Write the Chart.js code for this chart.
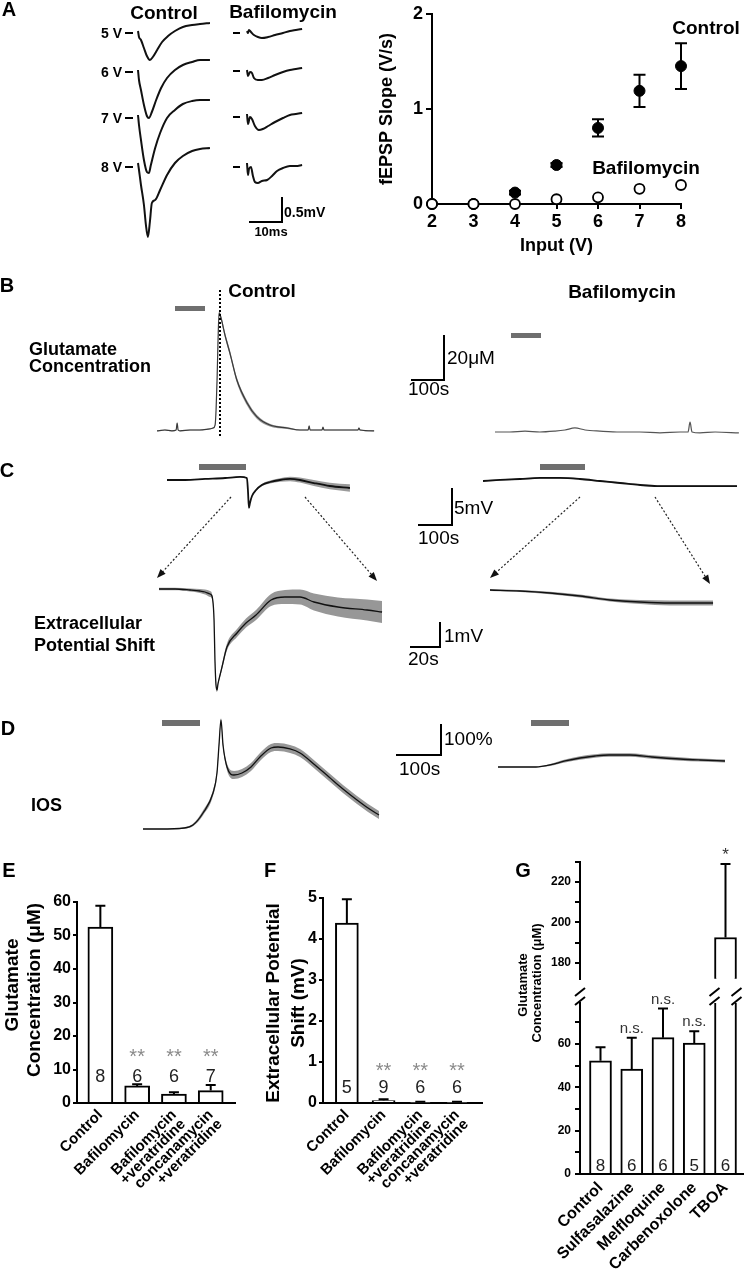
<!DOCTYPE html>
<html><head><meta charset="utf-8">
<script src="https://cdn.jsdelivr.net/npm/chart.js@4.4.1/dist/chart.umd.min.js"></script>
<style>
html,body{margin:0;padding:0;background:#fff;}
#fig{position:relative;width:746px;height:1281px;overflow:hidden;background:#fff;font-family:"Liberation Sans",Arial,sans-serif;color:#000;}
.t{position:absolute;white-space:nowrap;line-height:1;}
canvas{position:absolute;}
#deco{position:absolute;left:0;top:0;z-index:5;pointer-events:none;}
</style></head>
<body><div id="fig"><svg id="deco" width="746" height="1281" xmlns="http://www.w3.org/2000/svg"></svg></div>
<script>
// ---------------- DATA ----------------
// Panel A: fEPSP traces (time in ms, potential in mV)
const aCtl5T = [0,0.3,0.9,1.8,2.7,3.6,4.5,5.8,7.3,9.1,11.2,13.6,16.4,18.8,21.8];
const aCtl5V = [0,-0.12,-0.18,-0.34,-0.5,-0.58,-0.52,-0.38,-0.22,-0.1,0,0.08,0.12,0.14,0.16];
const aCtl6T = [0,0.3,0.9,1.8,2.7,3.3,4.2,5.5,7.0,8.8,11.2,13.6,16.4,18.8,21.8];
const aCtl6V = [0,-0.2,-0.4,-0.7,-0.92,-0.96,-0.84,-0.6,-0.36,-0.16,0,0.1,0.16,0.2,0.2];
const aCtl7T = [0,0.3,0.9,1.8,2.7,3.3,3.9,5.2,6.7,8.8,11.2,13.6,16.4,18.8,21.8];
const aCtl7V = [0,-0.2,-0.5,-0.9,-1.14,-1.16,-1.0,-0.66,-0.36,-0.06,0.1,0.22,0.28,0.3,0.3];
const aCtl8T = [0,0.3,0.9,1.8,2.4,3.0,3.6,4.2,5.2,6.7,8.8,11.2,13.6,16.4,18.8,21.8];
const aCtl8V = [0,-0.14,-0.44,-0.84,-1.24,-1.48,-1.18,-0.8,-0.74,-0.54,-0.24,0,0.14,0.24,0.28,0.3];
const aBaf5T = [0,0.3,0.6,1.2,2.1,3.3,4.5,6.4,8.5,10.9,13.0,14.8,16.7];
const aBaf5V = [0,-0.04,0.02,-0.02,-0.08,-0.12,-0.14,-0.12,-0.08,-0.04,0,0.02,0.04];
const aBaf6T = [0,0.3,0.9,1.5,2.1,3.3,4.5,6.4,8.5,10.9,13.0,14.8,16.7];
const aBaf6V = [0.02,-0.1,-0.02,-0.04,-0.14,-0.18,-0.18,-0.14,-0.08,-0.02,0.02,0.04,0.06];
const aBaf7T = [0,0.3,0.9,1.5,2.4,3.6,4.8,6.4,8.5,10.9,13.0,14.8,16.7];
const aBaf7V = [0.04,-0.16,-0.02,-0.06,-0.2,-0.28,-0.26,-0.2,-0.12,-0.04,0.02,0.04,0.06];
const aBaf8T = [0,0.3,0.6,1.2,1.8,2.4,3.3,4.5,6.1,7.6,9.1,10.9,13.0,14.8,16.7];
const aBaf8V = [0.04,-0.2,-0.08,-0.04,-0.22,-0.34,-0.36,-0.32,-0.3,-0.22,-0.12,-0.06,-0.02,-0.02,0];

// Panel A: input-output curve
const inputV = [2,3,4,5,6,7,8];
const slopeCtl = [0,0,0.12,0.41,0.80,1.19,1.45];
const slopeCtlErr = [0,0,0.02,0.02,0.09,0.17,0.24];
const slopeBaf = [0,0,0,0.05,0.07,0.16,0.20];
const slopeBafErr = [0,0,0,0,0,0,0];

// Panel B: glutamate concentration (time s, uM)
const bCtlT = [0,24,45,58,61,64,70,100,130,155,170,176,179,182,185,188,194,206,221,242,273,303,342,394,433,458,461,464,488,500,503,506,555,609,612,615,658];
const bCtlV = [-0.4,0,-0.4,0,3.1,0,-0.4,0,0,0.4,0.9,2.2,8.9,22.2,40,52,49.8,42.2,34.2,22.2,12,5.8,2.2,0.9,0,0,1.8,0,0,0,1.3,0,0,0,0.9,0,-0.4];
const bCtlSem = [0.2,0.2,0.2,0.2,0.2,0.2,0.2,0.2,0.2,0.2,0.2,0.3,0.6,0.9,1.0,1.0,1.1,1.2,1.2,1.2,1.1,0.9,0.6,0.4,0.2,0.2,0.2,0.2,0.2,0.2,0.2,0.2,0.2,0.2,0.2,0.2,0.2];
const bBafT = [0,45,91,136,182,212,242,273,318,379,439,500,561,585,591,597,621,667,739];
const bBafV = [0,0,0.4,0,0.4,0.9,1.8,0.9,0.4,0,0,-0.4,0,0,4.4,0,-0.4,0,-0.4];

// Panel C: extracellular potential (time s, mV)
const cTopCtlT = [0,53,112,171,215,235,238,241,244,250,262,279,303,332,362,391,432,479,538];
const cTopCtlV = [0,0,0.14,0.27,0.41,0.27,-1.35,-3.78,-3.11,-2.16,-1.35,-0.68,-0.27,0,0.14,0,-0.41,-0.81,-1.08];
const cTopCtlSem = [0.05,0.05,0.05,0.05,0.05,0.05,0.08,0.1,0.1,0.1,0.12,0.15,0.2,0.25,0.3,0.35,0.4,0.45,0.5];
const cTopBafT = [0,50,109,168,226,285,344,403,462,512,579,638,747];
const cTopBafV = [0,0.14,0.27,0.41,0.41,0.27,0,-0.27,-0.54,-0.68,-0.68,-0.68,-0.68];
const cTopBafSem = [0.1,0.1,0.1,0.1,0.1,0.1,0.1,0.1,0.1,0.1,0.1,0.1,0.1];
const cBotCtlT = [0,10.7,20.7,27.3,30.7,34,35.3,36.7,37.3,38,38.7,39.3,40.7,42,45.3,52,58,64.7,74.7,84,94,103.3,119.3,138.7,148.7];
const cBotCtlV = [0,0,-0.04,-0.08,-0.12,-0.2,-0.28,-1.24,-2.84,-3.84,-4.04,-3.8,-3.44,-3.12,-2.32,-1.76,-1.36,-1.04,-0.44,-0.32,-0.32,-0.52,-0.72,-0.84,-0.92];
const cBotCtlSem = [0.05,0.05,0.06,0.08,0.1,0.12,0.1,0.08,0.08,0.08,0.08,0.08,0.08,0.1,0.14,0.16,0.18,0.2,0.24,0.28,0.3,0.34,0.38,0.42,0.44];
const cBotBafT = [0,20,40,60,80,100,120,148.7];
const cBotBafV = [0,-0.04,-0.12,-0.24,-0.4,-0.48,-0.52,-0.52];
const cBotBafSem = [0.04,0.04,0.05,0.06,0.06,0.08,0.1,0.1];

// Panel D: intrinsic optical signal (time s, %)
const dCtlT = [0,37.8,91.1,111.1,133.3,155.6,164.4,168.9,173.3,177.8,186.7,202.2,220,240,260,284.4,300,326.7,348.9,382.2,413.3,444.4,475.6,500,524.4];
const dCtlV = [0,0,3.2,12.9,51.6,116.1,180.6,271,351.6,271,200,174.2,180.6,200,232.3,261.3,264.5,258.1,245.2,206.5,167.7,129,93.5,67.7,45.2];
const dCtlSem = [1,1,2,4,8,10,10,8,6,8,11,13,13,13,13,13,13,13,13,13,13,13,13,13,13];
const dBafT = [0,48.9,84.4,115.6,148.9,182.2,215.6,246.7,293.3,342.2,404.4,448.9,504.4];
const dBafV = [0,0,0,6.5,19.4,29,35.5,38.7,38.7,32.3,25.8,22.6,19.4];
const dBafSem = [1,1,1,3,5,6,6,6,6,6,6,5,5];

// Panel E
const eLabels = ['Control', 'Bafilomycin', ['Bafilomycin','+veratridine'], ['concanamycin','+veratridine']];
const eMean = [52.5, 5.1, 2.7, 3.7];
const eSem = [6.4, 0.5, 0.5, 1.7];
const eN = [8, 6, 6, 7];
const eSig = ['', '**', '**', '**'];
// Panel F
const fLabels = eLabels;
const fMean = [4.39, 0.06, 0.02, 0.02];
const fSem = [0.58, 0.03, 0.01, 0.01];
const fN = [5, 9, 6, 6];
const fSig = ['', '**', '**', '**'];
// Panel G
const gLabels = ['Control', 'Sulfasalazine', 'Melfloquine', 'Carbenoxolone', 'TBOA'];
const gMean = [52.3, 48.5, 63, 60.5, 192.5];
const gSem = [6.3, 14.5, 13.5, 5.5, 36.5];
const gN = [8, 6, 6, 5, 6];
const gSig = ['', 'n.s.', 'n.s.', 'n.s.', '*'];
const gLowRange = [0, 79];
const gHighRange = [172, 230];

// ---------------- SETUP ----------------
Chart.defaults.font.family = '"Liberation Sans", Arial, sans-serif';
Chart.defaults.color = '#000';
Chart.defaults.animation = false;
Chart.defaults.responsive = false;
Chart.defaults.devicePixelRatio = 1;
Chart.defaults.events = [];
Chart.defaults.plugins.legend.display = false;
Chart.defaults.plugins.tooltip.enabled = false;

const fig = document.getElementById('fig');
const svg = document.getElementById('deco');
const NS = 'http://www.w3.org/2000/svg';

function addCanvas(l, t, w, h) {
  const c = document.createElement('canvas');
  c.width = Math.round(w); c.height = Math.round(h);
  c.style.left = Math.round(l) + 'px'; c.style.top = Math.round(t) + 'px';
  c.style.width = c.width + 'px'; c.style.height = c.height + 'px';
  fig.appendChild(c);
  return c;
}
function txt(s, x, y, size, o = {}) {
  const d = document.createElement('div');
  d.className = 't'; d.textContent = s;
  d.style.fontSize = size + 'px';
  d.style.fontWeight = o.w || 'bold';
  d.style.color = o.c || '#000';
  d.style.left = x + 'px'; d.style.top = y + 'px';
  const a = o.a || 'c';
  const tx = a === 'c' ? '-50%' : (a === 'r' ? '-100%' : '0');
  d.style.transform = 'translate(' + tx + ',-50%)' + (o.rot ? ' rotate(' + o.rot + 'deg)' : '');
  d.style.zIndex = 6;
  fig.appendChild(d);
}
function ln(x1, y1, x2, y2, w, c, dash) {
  const l = document.createElementNS(NS, 'line');
  l.setAttribute('x1', x1); l.setAttribute('y1', y1); l.setAttribute('x2', x2); l.setAttribute('y2', y2);
  l.setAttribute('stroke', c || '#000'); l.setAttribute('stroke-width', w || 2);
  if (dash) l.setAttribute('stroke-dasharray', dash);
  svg.appendChild(l);
}
function rect(x, y, w, h, c) {
  const r = document.createElementNS(NS, 'rect');
  r.setAttribute('x', x); r.setAttribute('y', y); r.setAttribute('width', w); r.setAttribute('height', h);
  r.setAttribute('fill', c);
  svg.appendChild(r);
}
function arrow(x1, y1, x2, y2) {
  const dx = x2 - x1, dy = y2 - y1, L = Math.hypot(dx, dy), ux = dx / L, uy = dy / L;
  const hl = 9, hw = 3.5;
  ln(x1, y1, x2 - ux * hl * 0.8, y2 - uy * hl * 0.8, 1.2, '#222', '2,2');
  const bx = x2 - ux * hl, by = y2 - uy * hl;
  const p = document.createElementNS(NS, 'polygon');
  p.setAttribute('points', `${x2},${y2} ${bx - uy * hw},${by + ux * hw} ${bx + uy * hw},${by - ux * hw}`);
  p.setAttribute('fill', '#111');
  svg.appendChild(p);
}

// Trace chart: origin (x0,y0) is where t=0, v=0 sits; kx, ky are px per unit
function traceChart(t, v, sem, x0, y0, kx, ky, line, band, lw) {
  const hi = v.map((a, i) => a + (sem ? sem[i] : 0));
  const lo = v.map((a, i) => a - (sem ? sem[i] : 0));
  const m = 4;
  const left = Math.round(x0 + (Math.min(...t)) * kx - m);
  const right = Math.round(x0 + (Math.max(...t)) * kx + m);
  const top = Math.round(y0 - Math.max(...hi) * ky - m);
  const bottom = Math.round(y0 - Math.min(...lo) * ky + m);
  const tmin = (left - x0) / kx, tmax = (right - x0) / kx;
  const vmax = (y0 - top) / ky, vmin = (y0 - bottom) / ky;
  const cv = addCanvas(left, top, right - left, bottom - top);
  const pts = arr => t.map((x, i) => ({x: x, y: arr[i]}));
  const ds = [];
  if (sem) {
    ds.push({data: pts(hi), borderWidth: 0, pointRadius: 0, fill: false, order: 2, cubicInterpolationMode: 'monotone'});
    ds.push({data: pts(lo), borderWidth: 0, pointRadius: 0, fill: '-1', order: 1, backgroundColor: band, cubicInterpolationMode: 'monotone'});
  }
  ds.push({data: pts(v), borderColor: line, borderWidth: lw, pointRadius: 0, fill: false, order: 0, cubicInterpolationMode: 'monotone'});
  new Chart(cv, {
    type: 'line', data: {datasets: ds},
    options: {layout: {padding: 0},
      scales: {x: {type: 'linear', display: false, min: tmin, max: tmax},
               y: {type: 'linear', display: false, min: vmin, max: vmax}}}
  });
}

// ---------------- PANEL A traces ----------------
const AKX = 3.3, AKY = 50;
traceChart(aCtl5T, aCtl5V, null, 138, 31, AKX, AKY, '#111', null, 2);
traceChart(aCtl6T, aCtl6V, null, 138, 70, AKX, AKY, '#111', null, 2);
traceChart(aCtl7T, aCtl7V, null, 138, 115, AKX, AKY, '#111', null, 2);
traceChart(aCtl8T, aCtl8V, null, 138, 163, AKX, AKY, '#111', null, 2);
traceChart(aBaf5T, aBaf5V, null, 247, 31, AKX, AKY, '#111', null, 2);
traceChart(aBaf6T, aBaf6V, null, 247, 71, AKX, AKY, '#111', null, 2);
traceChart(aBaf7T, aBaf7V, null, 247, 116, AKX, AKY, '#111', null, 2);
traceChart(aBaf8T, aBaf8V, null, 247, 165, AKX, AKY, '#111', null, 2);

// ---------------- PANEL A scatter ----------------
const errPlugin = {
  id: 'errBars',
  afterDatasetsDraw(chart) {
    const ctx = chart.ctx, ys = chart.scales.y;
    chart.data.datasets.forEach((ds, di) => {
      if (!ds.errors) return;
      const meta = chart.getDatasetMeta(di);
      ctx.save(); ctx.strokeStyle = '#000'; ctx.lineWidth = 2;
      meta.data.forEach((pt, i) => {
        const e = ds.errors[i]; if (!e) return;
        const val = ds.data[i].y;
        const y1 = ys.getPixelForValue(val + e), y2 = ys.getPixelForValue(val - e);
        ctx.beginPath();
        ctx.moveTo(pt.x, y1); ctx.lineTo(pt.x, y2);
        ctx.moveTo(pt.x - 6, y1); ctx.lineTo(pt.x + 6, y1);
        ctx.moveTo(pt.x - 6, y2); ctx.lineTo(pt.x + 6, y2);
        ctx.stroke();
      });
      ctx.restore();
    });
  }
};
{
  const cv = addCanvas(363, 0, 383, 262);
  new Chart(cv, {
    type: 'scatter',
    data: {datasets: [
      {data: inputV.map((x, i) => ({x: x, y: slopeCtl[i]})), errors: slopeCtlErr, order: 1, pointRadius: 5.5, backgroundColor: '#000', borderColor: '#000', borderWidth: 1, clip: false},
      {data: inputV.map((x, i) => ({x: x, y: slopeBaf[i]})), errors: slopeBafErr, order: 0, pointRadius: 5, backgroundColor: '#fff', borderColor: '#000', borderWidth: 1.8, clip: false}
    ]},
    options: {
      layout: {padding: {top: 13, right: 65, left: 0, bottom: 0}},
      scales: {
        x: {type: 'linear', min: 2, max: 8,
            afterFit: s => { s.height = 58; },
            ticks: {stepSize: 1, font: {size: 18, weight: 'bold'}, padding: 2, color: '#000'},
            grid: {display: true, drawOnChartArea: false, drawTicks: true, tickLength: 5, color: '#000', lineWidth: 2},
            border: {display: true, color: '#000', width: 2},
            title: {display: true, text: 'Input (V)', font: {size: 18, weight: 'bold'}, color: '#000', padding: {top: 0, bottom: 5}}},
        y: {type: 'linear', min: 0, max: 2,
            afterFit: s => { s.width = 69; },
            ticks: {stepSize: 1, font: {size: 18, weight: 'bold'}, padding: 3, color: '#000'},
            grid: {display: true, drawOnChartArea: false, drawTicks: true, tickLength: 6, color: '#000', lineWidth: 2},
            border: {display: true, color: '#000', width: 2},
            title: {display: true, text: 'fEPSP Slope (V/s)', font: {size: 18, weight: 'bold'}, color: '#000', padding: {top: 13, bottom: 0}}}
      }
    },
    plugins: [errPlugin]
  });
}

// ---------------- PANELS B, C, D traces ----------------
traceChart(bCtlT, bCtlV, bCtlSem, 157, 430, 0.33, 2.25, '#3a3a3a', 'rgba(125,125,125,0.8)', 1.2);
traceChart(bBafT, bBafV, null, 495, 432, 0.33, 2.25, '#555', null, 1.2);
traceChart(cTopCtlT, cTopCtlV, cTopCtlSem, 167, 480, 0.34, 7.4, '#111', 'rgba(130,130,130,0.8)', 1.8);
traceChart(cTopBafT, cTopBafV, cTopBafSem, 483, 481, 0.34, 7.4, '#111', 'rgba(130,130,130,0.8)', 1.8);
traceChart(cBotCtlT, cBotCtlV, cBotCtlSem, 159, 589, 1.5, 25, '#111', 'rgba(140,140,140,0.9)', 1.3);
traceChart(cBotBafT, cBotBafV, cBotBafSem, 490, 590, 1.5, 25, '#111', 'rgba(140,140,140,0.9)', 1.3);
traceChart(dCtlT, dCtlV, dCtlSem, 143, 829, 0.45, 0.31, '#111', 'rgba(140,140,140,0.9)', 1.3);
traceChart(dBafT, dBafV, dBafSem, 498, 767, 0.45, 0.31, '#111', 'rgba(140,140,140,0.9)', 1.3);

// ---------------- BAR CHARTS ----------------
const barPlugin = {
  id: 'barAnn',
  afterDatasetsDraw(chart, args, o) {
    if (!o || !o.mean) return;
    const ctx = chart.ctx, ys = chart.scales.y, meta = chart.getDatasetMeta(0);
    o.mean.forEach((val, i) => {
      const bar = meta.data[i]; if (!bar || val == null) return;
      if (val < ys.min) return;
      const x = bar.x;
      const full = val <= ys.max;
      ctx.save();
      if (full) {
        const yb = ys.getPixelForValue(val), yt = ys.getPixelForValue(val + o.sem[i]);
        ctx.strokeStyle = '#000'; ctx.lineWidth = 2;
        ctx.beginPath(); ctx.moveTo(x, yb); ctx.lineTo(x, yt);
        ctx.moveTo(x - o.cap / 2, yt); ctx.lineTo(x + o.cap / 2, yt); ctx.stroke();
        if (o.sig && o.sig[i]) {
          ctx.fillStyle = o.sigColor; ctx.font = o.sigFont; ctx.textAlign = 'center'; ctx.textBaseline = 'middle';
          const sy = o.sigFromBottom != null ? ys.bottom - o.sigFromBottom : yt - o.sigGap;
          ctx.fillText(o.sig[i], x, sy);
        }
      }
      if (o.n && o.nFromBottom != null) {
        ctx.fillStyle = '#222'; ctx.font = o.nFont; ctx.textAlign = 'center'; ctx.textBaseline = 'middle';
        ctx.fillText(String(o.n[i]), x, ys.bottom - o.nFromBottom);
      }
      ctx.restore();
    });
  }
};
const breakPlugin = {
  id: 'axisBreak',
  afterDraw(chart, args, o) {
    if (!o || !o.on) return;
    const ctx = chart.ctx, area = chart.chartArea, meta = chart.getDatasetMeta(0);
    const xs = [area.left];
    o.barIdx.forEach(i => { const b = meta.data[i]; xs.push(b.x - b.width / 2, b.x + b.width / 2); });
    ctx.save(); ctx.strokeStyle = '#000'; ctx.lineWidth = 2;
    xs.forEach(x => {
      [area.top - 11, area.top - 2].forEach(y => {
        ctx.beginPath(); ctx.moveTo(x - 5, y + 4); ctx.lineTo(x + 5, y - 4); ctx.stroke();
      });
    });
    ctx.restore();
  }
};

function barChart(cfg) {
  const cv = addCanvas(cfg.left, cfg.top, cfg.width, cfg.height);
  const yW = cfg.areaLeft - cfg.left;
  const padTop = cfg.areaTop - cfg.top;
  const padRight = cfg.left + cfg.width - cfg.areaRight;
  const xH = cfg.top + cfg.height - cfg.areaBottom;
  new Chart(cv, {
    type: 'bar',
    data: {datasets: [{data: cfg.values.map((v, i) => ({x: i, y: v})), backgroundColor: '#fff', borderColor: '#000', borderWidth: 2, barThickness: cfg.barW, borderSkipped: 'start'}]},
    options: {
      layout: {padding: {top: padTop, right: padRight, left: 0, bottom: cfg.xHidden ? xH : 0}},
      scales: {
        x: {type: 'linear', min: cfg.xmin, max: cfg.xmax, offset: false, display: !cfg.xHidden,
            afterFit: s => { s.height = xH; },
            ticks: {stepSize: 1, includeBounds: false, autoSkip: false, minRotation: 45, maxRotation: 45, padding: 5,
                    font: {size: cfg.xFont, weight: 'bold', lineHeight: cfg.xLH || 1.1}, color: '#000',
                    callback: v => (Number.isInteger(v) && cfg.labels[v] !== undefined) ? cfg.labels[v] : ''},
            grid: {display: false, drawTicks: false, offset: false},
            border: {display: true, color: '#000', width: 2}},
        y: {type: 'linear', min: cfg.ymin, max: cfg.ymax,
            afterFit: s => { s.width = yW; },
            ticks: {stepSize: cfg.yStep, includeBounds: false, autoSkip: false, padding: cfg.yPad, font: {size: cfg.yFont, weight: 'bold'}, color: '#000',
                    callback: cfg.yCb || (v => v)},
            grid: {display: true, drawOnChartArea: false, drawTicks: true, tickLength: cfg.tickLen, color: '#000', lineWidth: 2},
            border: {display: true, color: '#000', width: 2}}
      },
      plugins: {barAnn: cfg.ann, axisBreak: cfg.brk || {on: false}}
    },
    plugins: [barPlugin, breakPlugin]
  });
}

// E
barChart({left: 0, top: 885, width: 250, height: 330, areaLeft: 77, areaRight: 235, areaTop: 902, areaBottom: 1103,
  values: eMean, labels: eLabels, xmin: -0.635, xmax: 3.66, barW: 25, ymin: 0, ymax: 60, yStep: 10, yFont: 16, yPad: 2, tickLen: 4, xFont: 15, xLH: 0.87,
  ann: {mean: eMean, sem: eSem, n: eN, sig: eSig, cap: 10, nFromBottom: 26, sigFromBottom: 46, nFont: '18px "Liberation Sans", Arial', sigFont: '20px "Liberation Sans", Arial', sigColor: '#8a8a8a'}});
// F
barChart({left: 250, top: 885, width: 250, height: 330, areaLeft: 323, areaRight: 482, areaTop: 898, areaBottom: 1103,
  values: fMean, labels: fLabels, xmin: -0.65, xmax: 3.68, barW: 23, ymin: 0, ymax: 5, yStep: 1, yFont: 16, yPad: 2, tickLen: 4, xFont: 15, xLH: 0.87,
  ann: {mean: fMean, sem: fSem, n: fN, sig: fSig, cap: 10, nFromBottom: 15, sigFromBottom: 32, nFont: '18px "Liberation Sans", Arial', sigFont: '20px "Liberation Sans", Arial', sigColor: '#8a8a8a'}});
// G lower segment
barChart({left: 490, top: 985, width: 256, height: 296, areaLeft: 580, areaRight: 743, areaTop: 1003, areaBottom: 1174,
  values: gMean, labels: gLabels, xmin: -0.656, xmax: 4.56, barW: 22, ymin: gLowRange[0], ymax: gLowRange[1], yStep: 10, yFont: 12, yPad: 4, tickLen: 5, xFont: 16,
  yCb: v => (v % 20 === 0 ? v : ''),
  ann: {mean: gMean, sem: gSem, n: gN, sig: gSig, cap: 10, nFromBottom: 8, sigGap: 9, nFont: '17px "Liberation Sans", Arial', sigFont: '15px "Liberation Sans", Arial', sigColor: '#333'},
  brk: {on: true, barIdx: [4]}});
// G upper segment
barChart({left: 490, top: 845, width: 256, height: 145, areaLeft: 580, areaRight: 743, areaTop: 862, areaBottom: 990, xHidden: true,
  values: gMean.map(v => (v >= gHighRange[0] ? v : null)), labels: gLabels, xmin: -0.656, xmax: 4.56, barW: 22, ymin: gHighRange[0], ymax: gHighRange[1], yStep: 10, yFont: 12, yPad: 4, tickLen: 5, xFont: 16,
  yCb: v => (v % 20 === 0 && v < 230 ? v : ''),
  ann: {mean: gMean, sem: gSem, sig: gSig, cap: 10, sigGap: 9, sigFont: '17px "Liberation Sans", Arial', sigColor: '#333'}});

// ---------------- DECORATIONS & TEXT ----------------
// Panel letters
txt('A', 9, 9, 20); txt('B', 7, 285, 20); txt('C', 7, 470, 20); txt('D', 8, 728, 20);
txt('E', 9, 870, 20); txt('F', 270, 870, 20); txt('G', 523, 870, 20);
// Panel A headings and voltage labels
txt('Control', 164, 12, 19); txt('Bafilomycin', 283, 11, 19);
[['5 V', 33], ['6 V', 72], ['7 V', 118], ['8 V', 167]].forEach(p => {
  txt(p[0], 122, p[1], 14, {a: 'r'});
  ln(125, p[1], 133, p[1], 2);
});
[33, 71, 117, 167].forEach(y => ln(233, y, 240, y, 2));
ln(282, 197, 282, 223, 2); ln(249, 222, 283, 222, 2);
txt('0.5mV', 284, 212, 14, {a: 'l'}); txt('10ms', 271, 231, 13);
txt('Control', 706, 27, 19); txt('Bafilomycin', 646, 167, 19);

// Panel B
txt('Control', 262, 290, 19); txt('Bafilomycin', 622, 291, 19);
txt('Glutamate', 29, 349, 18, {a: 'l'}); txt('Concentration', 29, 366, 18, {a: 'l'});
rect(175, 306, 30, 5, '#6f6f6f'); rect(511, 333, 30, 5, '#6f6f6f');
ln(220, 290, 220, 438, 2, '#000', '2,2');
ln(444, 335, 444, 381, 2); ln(411, 380, 445, 380, 2);
txt('20\u03bcM', 447, 357, 19, {a: 'l', w: 'normal'}); txt('100s', 408, 388, 19, {a: 'l', w: 'normal'});

// Panel C
rect(199, 464, 47, 6, '#6f6f6f'); rect(540, 464, 45, 6, '#6f6f6f');
ln(452, 488, 452, 526, 2); ln(418, 525, 453, 525, 2);
txt('5mV', 454, 507, 19, {a: 'l', w: 'normal'}); txt('100s', 418, 537, 19, {a: 'l', w: 'normal'});
arrow(231, 497, 157, 578); arrow(305, 497, 377, 581); arrow(580, 497, 490, 578); arrow(655, 497, 710, 584);
txt('Extracellular', 34, 623, 18, {a: 'l'}); txt('Potential Shift', 34, 645, 18, {a: 'l'});
ln(440, 622, 440, 648, 2); ln(410, 647, 441, 647, 2);
txt('1mV', 444, 635, 19, {a: 'l', w: 'normal'}); txt('20s', 408, 658, 19, {a: 'l', w: 'normal'});

// Panel D
rect(162, 720, 38, 6, '#6f6f6f'); rect(531, 720, 38, 6, '#6f6f6f');
ln(441, 724, 441, 756, 2); ln(396, 755, 442, 755, 2);
txt('100%', 444, 738, 19, {a: 'l', w: 'normal'}); txt('100s', 399, 768, 19, {a: 'l', w: 'normal'});
txt('IOS', 31, 805, 18, {a: 'l'});

// Y titles of E, F, G
txt('Glutamate', 11, 985, 19, {rot: -90}); txt('Concentration (\u03bcM)', 33, 990, 19, {rot: -90});
txt('Extracellular Potential', 272, 1003, 19, {rot: -90}); txt('Shift (mV)', 297, 1003, 19, {rot: -90});
txt('Glutamate', 522, 985, 13, {rot: -90}); txt('Concentration (\u03bcM)', 536, 983, 13, {rot: -90});
</script>
</body></html>
